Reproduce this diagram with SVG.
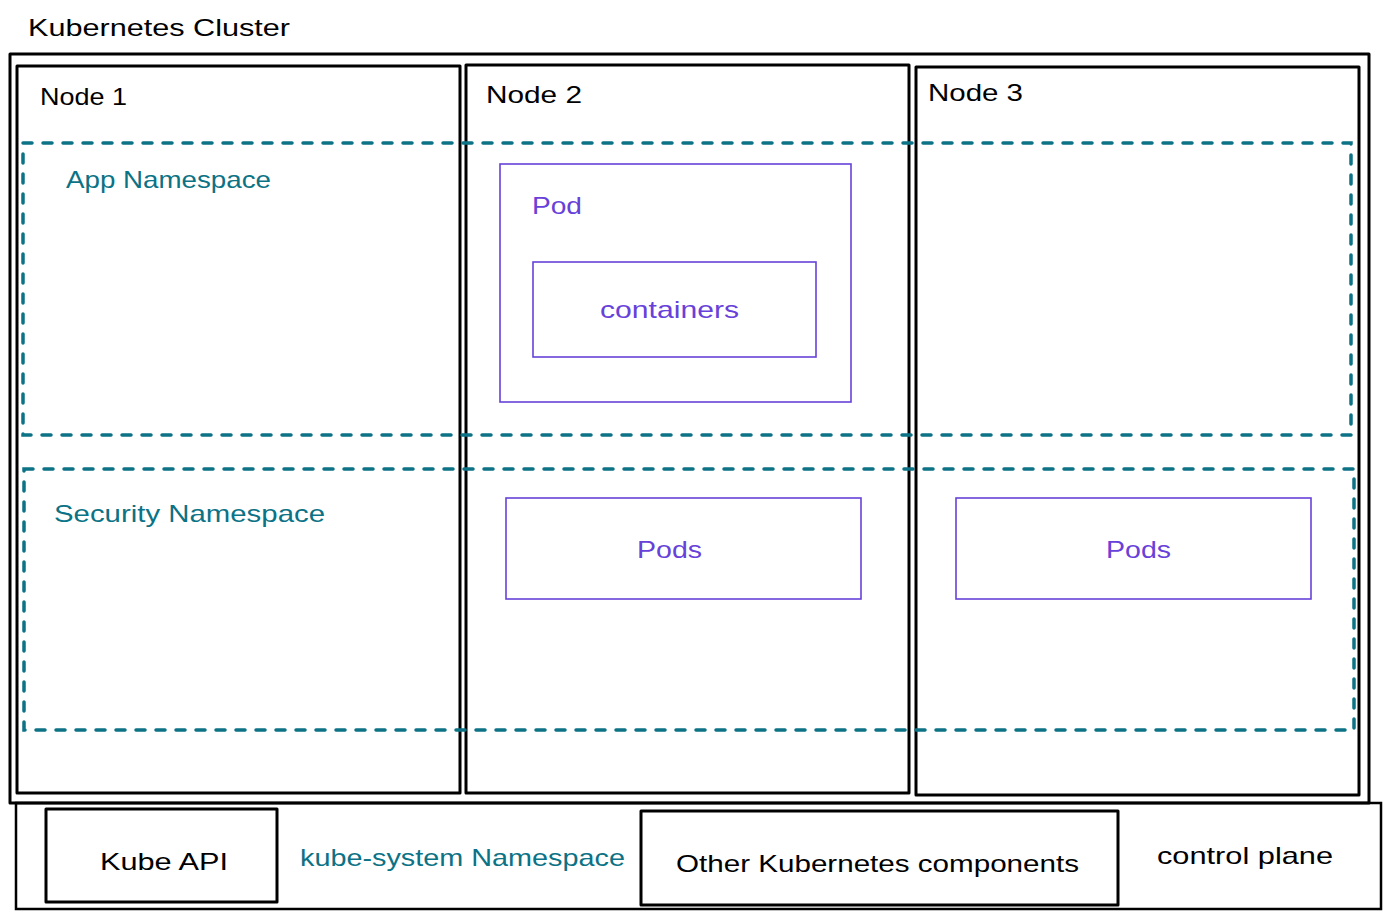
<svg xmlns="http://www.w3.org/2000/svg" width="1391" height="918" viewBox="0 0 1391 918">
<style>
  text { font-family: "Liberation Sans", "DejaVu Sans", sans-serif; font-size: 24px; }
  .blk { fill: #000; }
  .teal { fill: #0c7285; }
  .vio { fill: #6741d9; }
  .box { fill: none; stroke: #000; stroke-width: 3; stroke-linejoin: round; }
  .thin { fill: none; stroke: #000; stroke-width: 2.5; }
  .ns { fill: none; stroke: #0c7285; stroke-width: 3.5; stroke-dasharray: 9 11; stroke-linecap: round; }
  .pod { fill: none; stroke: #6741d9; stroke-width: 1.6; }
</style>
<rect width="1391" height="918" fill="#fff"/>
<g id="cluster">
  <rect class="box" x="10" y="54" width="1359" height="749"/>
  <text class="blk" x="28" y="36" textLength="262" lengthAdjust="spacingAndGlyphs">Kubernetes Cluster</text>
</g>
<g id="node1">
  <rect class="box" x="17" y="66" width="443" height="727"/>
  <text class="blk" x="40" y="105" textLength="87" lengthAdjust="spacingAndGlyphs">Node 1</text>
</g>
<g id="node2">
  <rect class="box" x="466" y="65" width="443" height="728"/>
  <text class="blk" x="486" y="103" textLength="96" lengthAdjust="spacingAndGlyphs">Node 2</text>
</g>
<g id="node3">
  <rect class="box" x="916" y="67" width="443" height="728"/>
  <text class="blk" x="928" y="101" textLength="95" lengthAdjust="spacingAndGlyphs">Node 3</text>
</g>
<g id="app-namespace">
  <rect class="ns" x="23" y="143" width="1328" height="292"/>
  <text class="teal" x="66" y="188" textLength="205" lengthAdjust="spacingAndGlyphs">App Namespace</text>
</g>
<g id="security-namespace">
  <rect class="ns" x="24" y="469" width="1330" height="261"/>
  <text class="teal" x="54" y="522" textLength="271" lengthAdjust="spacingAndGlyphs">Security Namespace</text>
</g>
<g id="pod">
  <rect class="pod" x="500" y="164" width="351" height="238"/>
  <text class="vio" x="532" y="214" textLength="50" lengthAdjust="spacingAndGlyphs">Pod</text>
</g>
<g id="containers">
  <rect class="pod" x="533" y="262" width="283" height="95"/>
  <text class="vio" x="600" y="318" textLength="139" lengthAdjust="spacingAndGlyphs">containers</text>
</g>
<g id="pods-node2">
  <rect class="pod" x="506" y="498" width="355" height="101"/>
  <text class="vio" x="637" y="558" textLength="65" lengthAdjust="spacingAndGlyphs">Pods</text>
</g>
<g id="pods-node3">
  <rect class="pod" x="956" y="498" width="355" height="101"/>
  <text class="vio" x="1106" y="558" textLength="65" lengthAdjust="spacingAndGlyphs">Pods</text>
</g>
<g id="control-plane">
  <rect class="thin" x="16" y="803" width="1365" height="106"/>
  <text class="blk" x="1157" y="864" textLength="176" lengthAdjust="spacingAndGlyphs">control plane</text>
  <text class="teal" x="300" y="866" textLength="325" lengthAdjust="spacingAndGlyphs">kube-system Namespace</text>
</g>
<g id="kube-api">
  <rect class="box" x="46" y="809" width="231" height="93"/>
  <text class="blk" x="100" y="870" textLength="128" lengthAdjust="spacingAndGlyphs">Kube API</text>
</g>
<g id="other-components">
  <rect class="box" x="641" y="811" width="477" height="94"/>
  <text class="blk" x="676" y="872" textLength="403" lengthAdjust="spacingAndGlyphs">Other Kubernetes components</text>
</g>
<g id="connectors"></g>
</svg>
